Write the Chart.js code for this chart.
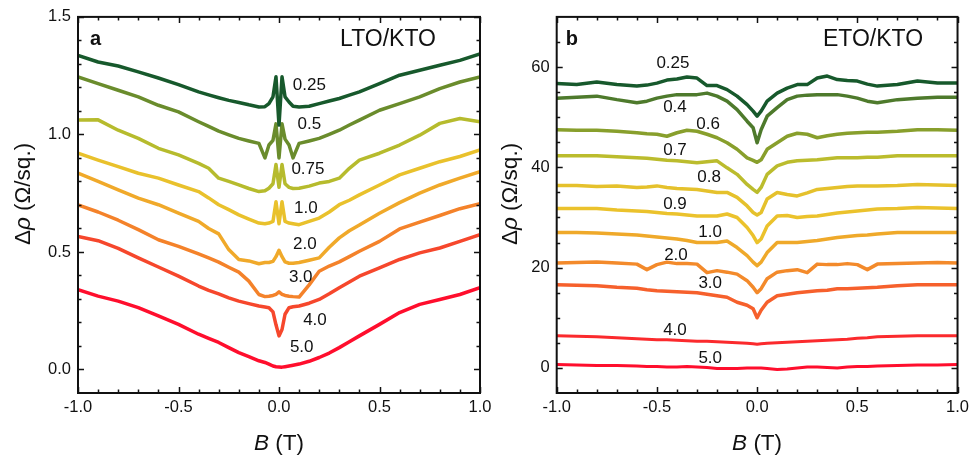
<!DOCTYPE html>
<html>
<head>
<meta charset="utf-8">
<script src="https://cdn.jsdelivr.net/npm/chart.js@4.4.0/dist/chart.umd.min.js"></script>
<style>
  body { margin: 0; background: #fff; }
  #wrap { position: relative; width: 974px; height: 456px; }
  #wrap canvas { position: absolute; left: 0; top: 0; }
</style>
</head>
<body>
<div id="wrap">
  <canvas id="chartA" width="974" height="456"></canvas>
  <canvas id="chartB" width="974" height="456"></canvas>
</div>
<script>
// --- panel a : LTO/KTO, delta rho vs B, one curve per temperature ---
const xA = [-1, -0.9, -0.8, -0.7, -0.6, -0.5, -0.4, -0.35, -0.3, -0.25, -0.2, -0.15, -0.1, -0.07, -0.05, -0.03, -0.015,
  0, 0.015, 0.03, 0.05, 0.07, 0.1, 0.15, 0.2, 0.25, 0.3, 0.35, 0.4, 0.5, 0.6, 0.7, 0.8, 0.9, 1];

const a025 = [1.336, 1.308, 1.291, 1.266, 1.240, 1.212, 1.181, 1.168, 1.156, 1.145, 1.136, 1.126, 1.117, 1.118, 1.131, 1.160, 1.245,
  1.040, 1.245, 1.160, 1.138, 1.120, 1.117, 1.120, 1.131, 1.142, 1.153, 1.167, 1.181, 1.216, 1.252, 1.273, 1.294, 1.315, 1.343];
const a05 = [1.245, 1.216, 1.188, 1.160, 1.124, 1.096, 1.054, 1.034, 1.014, 0.998, 0.983, 0.972, 0.962, 0.900, 0.955, 0.975, 1.045,
  0.900, 1.045, 0.980, 0.955, 0.900, 0.962, 0.972, 0.983, 1.000, 1.018, 1.040, 1.061, 1.103, 1.131, 1.160, 1.195, 1.223, 1.245];
const a075 = [1.061, 1.062, 1.018, 0.983, 0.941, 0.913, 0.877, 0.856, 0.814, 0.800, 0.785, 0.770, 0.757, 0.760, 0.771, 0.790, 0.872,
  0.775, 0.872, 0.790, 0.775, 0.770, 0.771, 0.780, 0.793, 0.800, 0.814, 0.856, 0.891, 0.920, 0.955, 0.997, 1.047, 1.068, 1.054];
const a10 = [0.920, 0.891, 0.863, 0.835, 0.814, 0.785, 0.757, 0.730, 0.701, 0.680, 0.658, 0.640, 0.623, 0.620, 0.623, 0.630, 0.714,
  0.620, 0.714, 0.630, 0.623, 0.620, 0.616, 0.630, 0.644, 0.670, 0.701, 0.720, 0.743, 0.785, 0.828, 0.856, 0.884, 0.906, 0.934];
const a20 = [0.835, 0.800, 0.764, 0.729, 0.701, 0.665, 0.630, 0.600, 0.577, 0.510, 0.468, 0.462, 0.450, 0.455, 0.455, 0.460, 0.480,
  0.507, 0.480, 0.458, 0.452, 0.452, 0.455, 0.465, 0.475, 0.520, 0.560, 0.590, 0.615, 0.665, 0.710, 0.750, 0.785, 0.814, 0.842];
const a30 = [0.700, 0.670, 0.635, 0.595, 0.552, 0.524, 0.492, 0.475, 0.457, 0.435, 0.414, 0.376, 0.319, 0.310, 0.312, 0.315, 0.320,
  0.330, 0.320, 0.315, 0.312, 0.310, 0.308, 0.360, 0.418, 0.440, 0.458, 0.480, 0.503, 0.545, 0.598, 0.627, 0.655, 0.684, 0.705];
const a40 = [0.566, 0.548, 0.515, 0.475, 0.436, 0.397, 0.355, 0.337, 0.322, 0.305, 0.291, 0.280, 0.270, 0.266, 0.263, 0.245, 0.190,
  0.143, 0.170, 0.235, 0.263, 0.267, 0.270, 0.282, 0.298, 0.322, 0.348, 0.372, 0.397, 0.432, 0.468, 0.496, 0.517, 0.545, 0.574];
const a50 = [0.340, 0.312, 0.291, 0.263, 0.228, 0.192, 0.150, 0.132, 0.115, 0.093, 0.072, 0.055, 0.037, 0.030, 0.023, 0.015, 0.012,
  0.011, 0.010, 0.012, 0.015, 0.018, 0.023, 0.035, 0.051, 0.070, 0.093, 0.118, 0.143, 0.192, 0.242, 0.277, 0.298, 0.319, 0.348];

const labA = ['0.25', '0.5', '0.75', '1.0', '2.0', '3.0', '4.0', '5.0'];
const labAx = [0.151, 0.151, 0.144, 0.134, 0.129, 0.108, 0.179, 0.113];
const labAy = [1.209, 1.041, 0.853, 0.684, 0.533, 0.391, 0.208, 0.093];

// --- panel b : ETO/KTO ---
const xB = [-1, -0.9, -0.8, -0.7, -0.6, -0.55, -0.5, -0.45, -0.4, -0.35, -0.3, -0.25, -0.2, -0.15, -0.1, -0.05, -0.02,
  0, 0.02, 0.05, 0.1, 0.15, 0.2, 0.25, 0.3, 0.35, 0.4, 0.45, 0.5, 0.55, 0.6, 0.7, 0.8, 0.9, 1];

const b025 = [56.7, 56.5, 57.0, 56.5, 56.2, 56.4, 56.8, 57.4, 57.6, 58.0, 57.8, 56.3, 56.3, 55.5, 54.2, 52.5, 51.2,
  50.2, 51.2, 53.2, 54.8, 55.8, 56.5, 56.5, 57.8, 58.2, 57.5, 57.3, 57.2, 56.6, 56.2, 56.5, 57.2, 56.8, 56.8];
const b04 = [53.8, 54.0, 54.2, 53.5, 52.9, 53.2, 53.8, 54.2, 54.5, 54.5, 54.5, 54.8, 54.2, 53.2, 51.5, 49.2, 47.9,
  44.9, 47.5, 50.2, 51.9, 53.5, 54.2, 54.4, 54.5, 54.5, 54.5, 54.2, 53.8, 53.2, 52.9, 53.5, 53.8, 54.0, 54.0];
const b06 = [47.5, 47.4, 47.4, 47.2, 46.9, 46.7, 46.6, 46.2, 46.9, 47.4, 47.2, 46.6, 45.9, 44.9, 43.6, 41.9, 41.4,
  41.0, 41.5, 43.6, 44.9, 46.2, 46.8, 46.6, 45.9, 46.3, 46.6, 46.8, 46.9, 47.0, 47.0, 47.2, 47.5, 47.5, 47.4];
const b07 = [42.3, 42.3, 42.3, 42.1, 41.9, 41.8, 41.6, 41.4, 41.3, 41.1, 40.9, 41.1, 41.3, 39.9, 38.6, 36.6, 35.6,
  35.0, 36.0, 38.6, 40.3, 41.0, 41.3, 41.4, 41.5, 41.7, 41.9, 41.9, 41.9, 42.0, 42.0, 42.3, 42.3, 42.3, 42.3];
const b08 = [36.4, 36.4, 36.2, 36.3, 36.0, 36.1, 36.3, 36.0, 35.8, 35.7, 35.6, 35.3, 35.0, 35.0, 34.0, 32.3, 31.0,
  30.5, 31.0, 33.7, 35.0, 34.6, 34.3, 34.9, 35.6, 35.8, 36.0, 36.2, 36.3, 36.3, 36.3, 36.4, 36.6, 36.5, 36.4];
const b09 = [31.8, 31.8, 31.8, 31.5, 31.3, 31.2, 31.0, 30.8, 30.7, 30.5, 30.3, 30.3, 30.3, 30.7, 30.0, 28.0, 26.4,
  25.0, 25.7, 28.3, 30.3, 30.4, 30.0, 30.2, 30.3, 30.6, 30.9, 31.1, 31.3, 31.5, 31.7, 31.8, 32.0, 31.9, 31.8];
const b10 = [27.0, 27.0, 26.9, 26.7, 26.5, 26.3, 26.1, 25.9, 25.7, 25.4, 25.0, 25.0, 25.0, 25.3, 24.0, 22.4, 21.1,
  20.4, 21.1, 23.0, 25.0, 25.0, 25.0, 25.2, 25.4, 25.7, 26.0, 26.2, 26.4, 26.5, 26.7, 27.0, 27.0, 27.0, 27.0];
const b20 = [20.9, 21.0, 21.1, 20.9, 20.7, 19.6, 20.6, 21.1, 20.8, 20.8, 20.7, 19.0, 19.4, 19.1, 18.7, 17.4, 16.1,
  15.0, 15.8, 17.8, 19.1, 19.4, 19.6, 19.0, 20.7, 20.6, 20.6, 20.8, 20.6, 19.6, 20.7, 20.8, 20.9, 21.0, 20.9];
const b30 = [16.6, 16.5, 16.4, 16.1, 15.9, 15.6, 15.4, 15.3, 15.2, 15.1, 15.0, 14.7, 14.4, 14.1, 13.1, 12.5, 11.8,
  10.0, 11.5, 13.1, 14.4, 14.7, 15.0, 15.2, 15.4, 15.5, 15.8, 15.8, 15.9, 16.0, 16.1, 16.4, 16.6, 16.6, 16.6];
const b40 = [6.4, 6.3, 6.2, 6.0, 5.8, 5.7, 5.6, 5.6, 5.5, 5.4, 5.3, 5.3, 5.2, 5.1, 5.0, 4.9, 4.8,
  4.7, 4.8, 4.9, 5.0, 5.1, 5.2, 5.3, 5.4, 5.5, 5.6, 5.7, 5.9, 6.0, 6.2, 6.3, 6.4, 6.4, 6.4];
const b50 = [0.7, 0.6, 0.5, 0.5, 0.4, 0.3, 0.3, 0.2, 0.2, 0.3, 0.2, 0.1, -0.1, -0.1, -0.1, 0.0, 0.0,
  0.0, 0.0, -0.1, -0.3, -0.2, 0.0, 0.2, 0.2, 0.1, 0.0, 0.2, 0.3, 0.3, 0.4, 0.5, 0.6, 0.6, 0.7];

const labB = ['0.25', '0.4', '0.6', '0.7', '0.8', '0.9', '1.0', '2.0', '3.0', '4.0', '5.0'];
const labBx = [-0.42, -0.41, -0.245, -0.41, -0.24, -0.41, -0.235, -0.405, -0.234, -0.41, -0.234];
const labBy = [60.8, 51.9, 48.5, 43.3, 38.0, 32.6, 27.0, 22.4, 16.8, 7.5, 2.0];

// ticks
const xTicks = [-1, -0.5, 0, 0.5, 1];
const yTicksA = [0, 0.5, 1.0, 1.5];
const yTicksB = [0, 20, 40, 60];

// colours
const colA = ['#17592c', '#6a8c2c', '#b6bb2d', '#e9c12c', '#f0a92a', '#f4822a', '#f6472c', '#ff0e2d'];
const colB = ['#17592c', '#4e7a2c', '#889f2c', '#bbbc2d', '#e5c12c', '#ebc22c', '#efa92a', '#f38a2b', '#f6602c', '#fb2a2d', '#ff0e2d'];

//! --------------------------------------------------------------

const FONT = '"Liberation Sans", Arial, sans-serif';
const INK = '#111';

function minors(lo, hi, step, majors) {
  const out = [];
  const n = Math.round((hi - lo) / step);
  for (let i = 1; i < n; i++) {
    const v = +(lo + i * step).toFixed(4);
    if (!majors.some((m) => Math.abs(m - v) < 1e-6)) out.push(v);
  }
  return out;
}

function richText(ctx, parts, x, y, rotate) {
  ctx.save();
  ctx.translate(x, y);
  if (rotate) ctx.rotate(-Math.PI / 2);
  let total = 0;
  parts.forEach((p) => {
    ctx.font = p.font;
    total += ctx.measureText(p.text).width;
  });
  let cx = -total / 2;
  ctx.textAlign = 'left';
  ctx.textBaseline = 'alphabetic';
  parts.forEach((p) => {
    ctx.font = p.font;
    ctx.fillText(p.text, cx, 0);
    cx += ctx.measureText(p.text).width;
  });
  ctx.restore();
}

// frame, inward ticks, curve labels, titles
const decor = {
  id: 'decor',
  afterDraw(chart, args, o) {
    const ctx = chart.ctx;
    const a = chart.chartArea;
    const xs = chart.scales.x;
    const ys = chart.scales.y;
    ctx.save();
    ctx.strokeStyle = INK;
    ctx.fillStyle = INK;

    ctx.lineWidth = 1.5;
    const tick = (vals, len, horiz) => {
      vals.forEach((v) => {
        ctx.beginPath();
        if (horiz) {
          const px = Math.round(xs.getPixelForValue(v)) + 0.5;
          ctx.moveTo(px, a.bottom); ctx.lineTo(px, a.bottom - len);
          ctx.moveTo(px, a.top); ctx.lineTo(px, a.top + len);
        } else {
          const py = Math.round(ys.getPixelForValue(v)) + 0.5;
          ctx.moveTo(a.left, py); ctx.lineTo(a.left + len, py);
          ctx.moveTo(a.right, py); ctx.lineTo(a.right - len, py);
        }
        ctx.stroke();
      });
    };
    tick(xTicks, 6, true);
    tick(minors(-1, 1, 0.1, xTicks), 3.5, true);
    tick(o.yMajor, 6, false);
    tick(minors(o.yMin, o.yMax, o.yMinorStep, o.yMajor), 3.5, false);

    ctx.lineWidth = 2;
    ctx.strokeRect(a.left, a.top, a.right - a.left, a.bottom - a.top);

    ctx.font = '17px ' + FONT;
    ctx.textAlign = 'center';
    ctx.textBaseline = 'middle';
    o.labels.forEach((t, i) => {
      ctx.fillText(t, xs.getPixelForValue(o.labX[i]), ys.getPixelForValue(o.labY[i]));
    });

    ctx.textAlign = 'left';
    ctx.textBaseline = 'alphabetic';
    ctx.font = 'bold 20px ' + FONT;
    ctx.fillText(o.letter, a.left + o.letterDx, a.top + 28);
    ctx.font = '23px ' + FONT;
    ctx.textAlign = 'center';
    ctx.fillText(o.sample, o.sampleX, a.top + 29);

    richText(ctx, [
      { text: 'B', font: 'italic 22.5px ' + FONT },
      { text: ' (T)', font: '22.5px ' + FONT },
    ], (a.left + a.right) / 2, 450, false);
    richText(ctx, [
      { text: '\u0394', font: '22.5px ' + FONT },
      { text: '\u03c1', font: 'italic 22.5px ' + FONT },
      { text: ' (\u03a9/sq.)', font: '22.5px ' + FONT },
    ], o.yTitleX, 194, true);
    ctx.restore();
  },
};

function makeChart(id, xs, series, colors, cfg) {
  const datasets = series.map((s, k) => ({
    data: xs.map((x, i) => ({ x: x, y: s[i] })),
    borderColor: colors[k],
    borderWidth: cfg.widths[k],
    pointRadius: 0,
    tension: 0,
    fill: false,
    borderJoinStyle: 'round',
    borderCapStyle: 'round',
  }));
  return new Chart(document.getElementById(id), {
    type: 'line',
    data: { datasets },
    options: {
      responsive: false,
      animation: false,
      devicePixelRatio: 1,
      layout: { padding: cfg.padding },
      plugins: { legend: { display: false }, tooltip: { enabled: false }, decor: cfg.decor },
      scales: {
        x: {
          type: 'linear', min: -1, max: 1,
          afterBuildTicks: (s) => { s.ticks = xTicks.map((v) => ({ value: v })); },
          afterFit: (s) => { s.height = 63; },
          grid: { display: false, drawTicks: false },
          border: { display: false },
          ticks: { font: { family: FONT, size: 16.5 }, color: INK, padding: 5, autoSkip: false, maxRotation: 0,
            callback: (v) => v.toFixed(1) },
        },
        y: {
          type: 'linear', min: cfg.yMin, max: cfg.yMax,
          afterBuildTicks: (s) => { s.ticks = cfg.yTicks.map((v) => ({ value: v })); },
          afterFit: (s) => { s.width = cfg.yWidth; },
          grid: { display: false, drawTicks: false },
          border: { display: false },
          ticks: { font: { family: FONT, size: 16.5 }, color: INK, padding: 7, autoSkip: false,
            callback: cfg.yFmt },
        },
      },
    },
    plugins: [decor],
  });
}

makeChart('chartA', xA, [a025, a05, a075, a10, a20, a30, a40, a50], colA, {
  padding: { left: 0, top: 14, right: 494, bottom: 0 },
  yWidth: 78, yMin: -0.1, yMax: 1.5, yTicks: yTicksA,
  yFmt: (v) => v.toFixed(1),
  widths: [3.5, 3.5, 3.5, 3.5, 3.5, 3.5, 3.5, 3.5],
  decor: {
    labels: labA, labX: labAx, labY: labAy,
    yMajor: yTicksA, yMin: -0.1, yMax: 1.5, yMinorStep: 0.1,
    letter: 'a', letterDx: 12, sample: 'LTO/KTO', sampleX: 388, yTitleX: 30,
  },
});

makeChart('chartB', xB, [b025, b04, b06, b07, b08, b09, b10, b20, b30, b40, b50], colB, {
  padding: { left: 487, top: 14, right: 13.7, bottom: 0 },
  yWidth: 69.7, yMin: -5, yMax: 70, yTicks: yTicksB,
  yFmt: (v) => String(v),
  widths: [3.5, 3.5, 3.5, 3.5, 3.5, 3.5, 3.5, 3.5, 3.5, 3, 3],
  decor: {
    labels: labB, labX: labBx, labY: labBy,
    yMajor: yTicksB, yMin: -5, yMax: 70, yMinorStep: 5,
    letter: 'b', letterDx: 9, sample: 'ETO/KTO', sampleX: 873, yTitleX: 517,
  },
});
</script>
</body>
</html>
